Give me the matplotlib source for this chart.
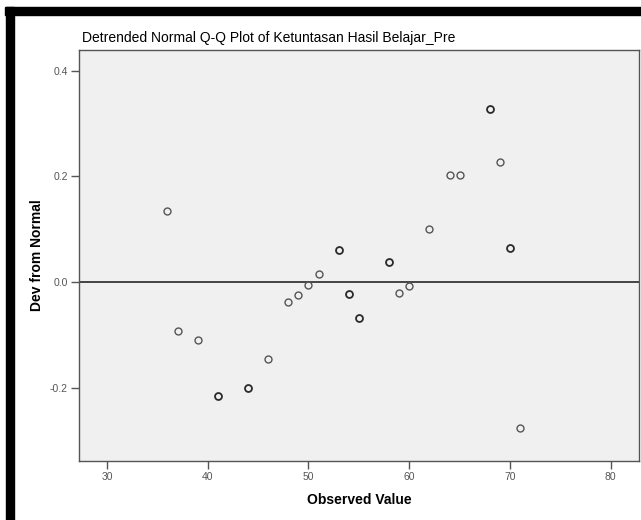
import matplotlib
matplotlib.use("Agg")
import matplotlib.pyplot as plt
from matplotlib.patches import Rectangle

plt.rcParams["font.family"] = ["Liberation Sans", "DejaVu Sans"]

observed = [36, 37, 39, 41, 44, 46, 48, 49, 50, 51, 53, 54, 55, 58, 59, 60,
            62, 64, 65, 68, 69, 70, 71]
deviation = [0.134, -0.091, -0.108, -0.214, -0.200, -0.145, -0.038, -0.023,
             -0.005, 0.015, 0.061, -0.022, -0.068, 0.038, -0.021, -0.006,
             0.101, 0.203, 0.202, 0.328, 0.227, 0.064, -0.275]
# points that look darker (repeated values in the data)
repeated = [41, 44, 53, 54, 55, 58, 68, 70]

x_ticks = [30, 40, 50, 60, 70, 80]
y_ticks = [-0.2, 0.0, 0.2, 0.4]

W, H = 641, 520
fig = plt.figure(figsize=(W / 100, H / 100), dpi=100)
fig.patch.set_facecolor("white")

# black frame on top and left, as in the screenshot
fig.patches.append(Rectangle((5 / W, 1 - 15 / H), 1, 8 / H, transform=fig.transFigure,
                             color="black", zorder=0))
fig.patches.append(Rectangle((6 / W, 0), 8 / W, 1 - 7 / H, transform=fig.transFigure,
                             color="black", zorder=0))

ax = fig.add_axes([79 / W, 1 - 460.7 / H, (638.7 - 79) / W, (460.7 - 50) / H])
ax.set_facecolor("#f0f0f0")

ax.axhline(0, color="#444444", linewidth=1.4, zorder=1)

for x, y in zip(observed, deviation):
    dark = x in repeated
    ax.plot(x, y, "o", markersize=5, markerfacecolor="none",
            markeredgecolor="#2a2a2a" if dark else "#555555",
            markeredgewidth=1.3 if dark else 1.0, zorder=3)

ax.set_xlim(27.22, 82.78)
ax.set_ylim(-0.337, 0.439)
ax.set_xticks(x_ticks)
ax.set_xticklabels([str(t) for t in x_ticks])
ax.set_yticks(y_ticks)
ax.set_yticklabels([f"{t:.1f}" for t in y_ticks])

for s in ax.spines.values():
    s.set_color("#555555")
    s.set_linewidth(1.0)

ax.tick_params(direction="out", length=6, width=1, color="#555555",
               labelcolor="#555555", labelsize=7.5, pad=2)

ax.set_xlabel("Observed Value", fontsize=10, fontweight="bold", labelpad=8)
ax.set_ylabel("Dev from Normal", fontsize=10, fontweight="bold", labelpad=4)

fig.text(82 / W, 1 - 38 / H, "Detrended Normal Q-Q Plot of Ketuntasan Hasil Belajar_Pre",
         fontsize=10, ha="left", va="center", color="black")

fig.savefig("out.png", dpi=100)
